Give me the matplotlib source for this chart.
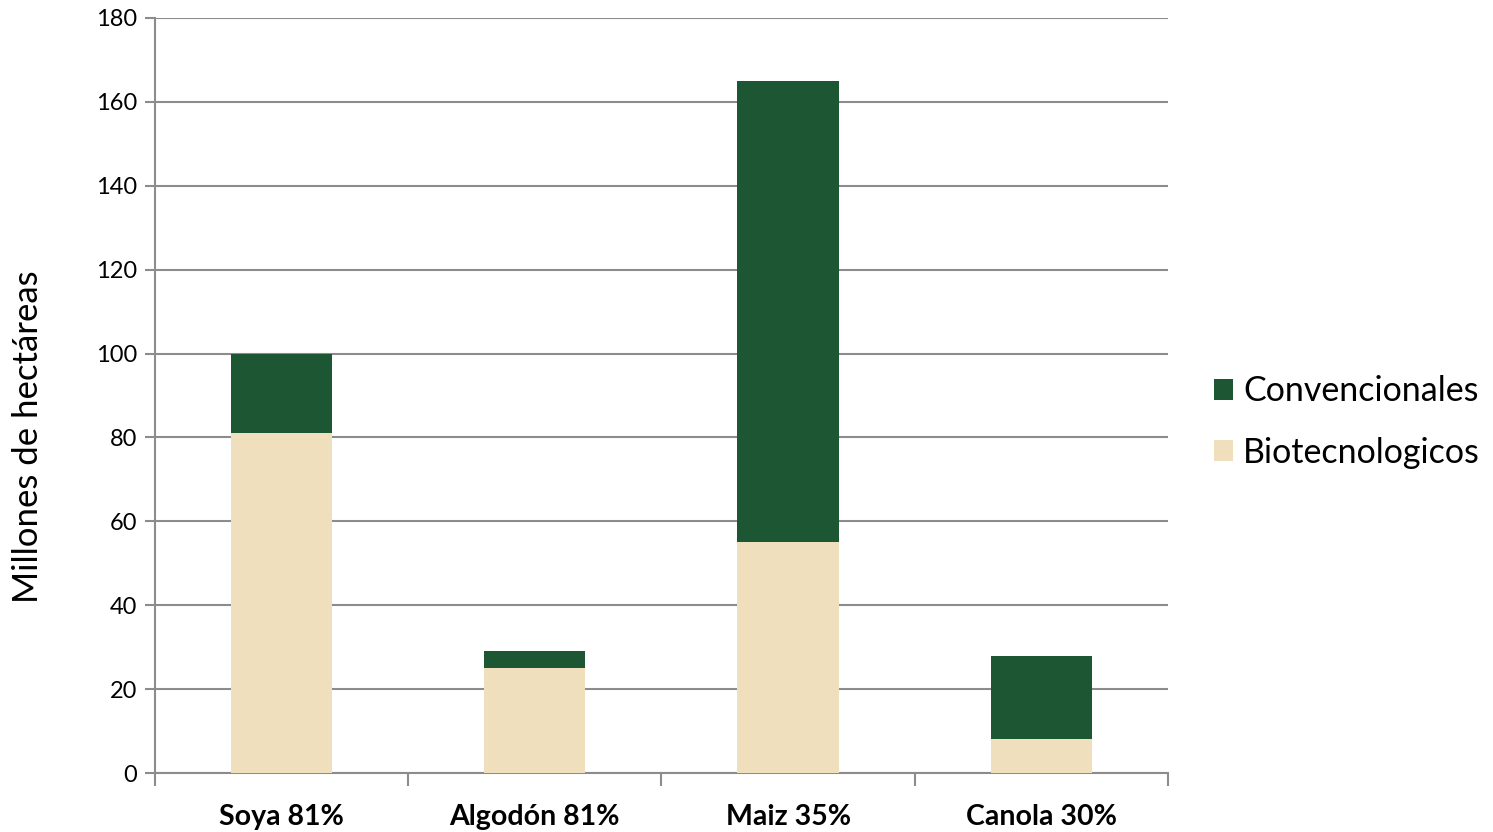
import matplotlib
matplotlib.use("Agg")
import matplotlib.pyplot as plt
from matplotlib.patches import Patch

categories = ["Soya 81%", "Algodón 81%", "Maiz 35%", "Canola 30%"]
biotecnologicos = [81, 25, 55, 8]
convencionales = [19, 4, 110, 20]
y_ticks = [0, 20, 40, 60, 80, 100, 120, 140, 160, 180]

green = "#1c5633"
beige = "#efdfbc"
grid_color = "#8c8c8c"

plt.rcParams["font.family"] = ["Lato", "DejaVu Sans"]

fig = plt.figure(figsize=(14.93, 8.32), dpi=100)
ax = fig.add_axes([0.1038, 0.0709, 0.6785, 0.9075])

x = list(range(len(categories)))
ax.bar(x, biotecnologicos, width=0.4, color=beige, zorder=3)
ax.bar(x, convencionales, width=0.4, bottom=biotecnologicos, color=green, zorder=3)

ax.set_xlim(-0.5, len(categories) - 0.5)
ax.set_ylim(0, 180)
ax.set_yticks(y_ticks)
ax.tick_params(axis="y", labelsize=17, length=7, width=1.5, color=grid_color, pad=6)
ax.yaxis.grid(True, color=grid_color, linewidth=1.5, zorder=0)

ax.set_xticks([i - 0.5 for i in range(len(categories) + 1)])
ax.set_xticklabels([])
ax.set_xticks(x, minor=True)
ax.set_xticklabels(categories, minor=True, fontsize=20.5, fontweight="bold")
ax.tick_params(axis="x", which="major", length=9, width=1.5, color=grid_color)
ax.tick_params(axis="x", which="minor", length=0, pad=22)

for side in ["top", "right"]:
    ax.spines[side].set_visible(False)
for side in ["left", "bottom"]:
    ax.spines[side].set_color(grid_color)
    ax.spines[side].set_linewidth(1.5)

ax.set_ylabel("Millones de hectáreas", fontsize=25)
ax.yaxis.set_label_coords(-0.110, 0.446)

handles = [Patch(facecolor=green), Patch(facecolor=beige)]
fig.legend(handles, ["Convencionales", "Biotecnologicos"], loc="center left",
           bbox_to_anchor=(0.7925, 0.4928), frameon=False, fontsize=24.5,
           handlelength=0.56, handleheight=0.56, handletextpad=0.3, labelspacing=0.87)

fig.savefig("out.png", dpi=100)
